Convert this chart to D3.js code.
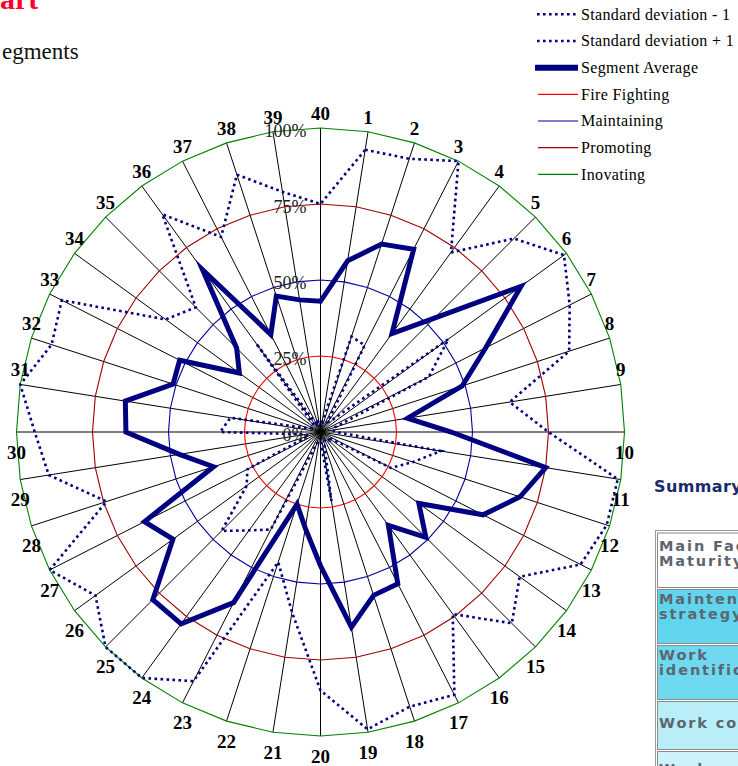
<!DOCTYPE html>
<html>
<head>
<meta charset="utf-8">
<script src="https://cdn.jsdelivr.net/npm/d3@7/dist/d3.min.js"></script>
<style>
  html, body { margin: 0; padding: 0; background: #fff; overflow: hidden; }
  svg { display: block; }
</style>
</head>
<body>
<script>
// ---------------- DATA ----------------
const categories = d3.range(1, 41).map(String); // spokes 1..40

const segmentAverage = [0.57,0.65,0.675,0.40,0.53,0.815,0.61,0.49,0.29,0.43,
                        0.75,0.69,0.60,0.40,0.49,0.38,0.56,0.565,0.65,0.44,
                        0.32,0.25,0.63,0.78,0.78,0.60,0.65,0.37,0.47,0.64,
                        0.65,0.51,0.52,0.33,0.39,0.66,0.36,0.47,0.44,0.43];

const sdPlus1 = [0.94,0.945,1.0,0.73,0.90,0.99,0.92,0.86,0.63,0.75,
                 0.99,0.99,0.96,0.81,0.89,0.74,0.97,0.95,0.99,0.85,
                 0.60,0.45,0.92,1.0,1.0,0.915,1.0,0.74,0.905,0.94,
                 1.0,0.93,0.955,0.63,0.58,0.885,0.72,0.89,0.80,0.75];

const sdMinus1 = [0.03,0.33,0.32,0.04,0.06,0.52,0.40,0.05,0.04,0.05,
                  0.40,0.32,0.26,0.03,0.04,0.03,0.03,0.04,0.23,0.03,
                  0.03,0.04,0.36,0.40,0.46,0.30,0.27,0.04,0.05,0.33,
                  0.30,0.04,0.03,0.03,0.03,0.36,0.03,0.04,0.03,0.03];

const levelNames  = ["Fire Fighting", "Maintaining", "Promoting", "Inovating"];
const levelValues = [0.25, 0.50, 0.75, 1.00];
const levelColors = ["#ff0000", "#0000a0", "#a00000", "#008000"];

const tickValues = [0, 0.25, 0.5, 0.75, 1];
const tickLabels = ["0%", "25%", "50%", "75%", "100%"];

const legendNames = ["Standard deviation - 1", "Standard deviation + 1", "Segment Average",
                     "Fire Fighting", "Maintaining", "Promoting", "Inovating"];

const tableRows = [["Main Factors", "Maturity"], ["Maintenance", "strategy"],
                   ["Work", "identification"], ["Work control"], ["Work"]];
const tableColors = ["#ffffff", "#62d5ee", "#6fd9f0", "#b9edf8", "#cdf2fa"];

// ---------------- LAYOUT ----------------
const W = 738, H = 766;
const cx = 320.5, cy = 432, R = 304;
const navy = "#000080";

const svg = d3.select("body").append("svg").attr("width", W).attr("height", H);

const rScale = d3.scaleLinear().domain([0, 1]).range([0, R]);
const aScale = d3.scaleLinear().domain([0, categories.length]).range([0, 2 * Math.PI]);
const angleOf = i => aScale(i + 1); // category i+1

const g = svg.append("g").attr("transform", `translate(${cx},${cy})`);

// spokes
g.selectAll("line.spoke").data(categories).join("line")
  .attr("class", "spoke")
  .attr("x1", 0).attr("y1", 0)
  .attr("x2", (d, i) => rScale(1) * Math.sin(angleOf(i)))
  .attr("y2", (d, i) => -rScale(1) * Math.cos(angleOf(i)))
  .attr("stroke", "#000").attr("stroke-width", 1);

const radial = d3.lineRadial()
  .angle((d, i) => angleOf(i))
  .radius(d => rScale(d))
  .curve(d3.curveLinearClosed);

// maturity level rings (constant series)
levelValues.forEach((v, k) => {
  g.append("path")
    .attr("d", radial(categories.map(() => v)))
    .attr("fill", "none").attr("stroke", levelColors[k]).attr("stroke-width", 1.1);
});

// SD lines
[sdMinus1, sdPlus1].forEach(s => {
  g.append("path").attr("d", radial(s))
    .attr("fill", "none").attr("stroke", navy).attr("stroke-width", 2.6)
    .attr("stroke-dasharray", "2.6,3.4");
});

// segment average
g.append("path").attr("d", radial(segmentAverage))
  .attr("fill", "none").attr("stroke", navy).attr("stroke-width", 5)
  .attr("stroke-linejoin", "miter").attr("stroke-miterlimit", 6);

// percent tick labels
g.selectAll("text.tick").data(tickValues).join("text")
  .attr("class", "tick")
  .attr("x", -14).attr("y", d => -rScale(d) + 3)
  .attr("text-anchor", "end").attr("dominant-baseline", "central")
  .attr("font-family", "'Liberation Serif', 'Times New Roman', serif")
  .attr("font-size", 18).attr("fill", "#222")
  .text((d, i) => tickLabels[i]);

// category labels
g.selectAll("text.cat").data(categories).join("text")
  .attr("class", "cat")
  .attr("x", (d, i) => rScale(1) * Math.sin(angleOf(i)))
  .attr("y", (d, i) => {
    const c = Math.cos(angleOf(i));
    const y = -rScale(1) * c;
    return c > 0.01 ? y - 14.5 : y + 20;
  })
  .attr("text-anchor", "middle").attr("dominant-baseline", "central")
  .attr("font-family", "'Liberation Serif', 'Times New Roman', serif")
  .attr("font-weight", "bold").attr("font-size", 19).attr("fill", "#000")
  .text(d => d);

// ---------------- TITLE TEXTS ----------------
svg.append("text").attr("x", 0).attr("y", 9)
  .attr("font-family", "'Liberation Serif', serif").attr("font-weight", "bold")
  .attr("font-size", 30).attr("fill", "#ff0030").text("art");
svg.append("text").attr("x", 2).attr("y", 59)
  .attr("font-family", "'Liberation Serif', serif")
  .attr("font-size", 23).attr("fill", "#111").text("egments");

// ---------------- LEGEND ----------------
const lg = svg.append("g");
const legY = i => 14.3 + i * 26.67;
legendNames.forEach((name, i) => {
  const y = legY(i);
  const ln = lg.append("line").attr("y1", y).attr("y2", y);
  if (i < 2) {
    ln.attr("x1", 537).attr("x2", 577).attr("stroke", navy)
      .attr("stroke-width", 2.6).attr("stroke-dasharray", "2.6,3.4");
  } else if (i === 2) {
    ln.attr("x1", 535).attr("x2", 578).attr("stroke", navy).attr("stroke-width", 6);
  } else {
    ln.attr("x1", 538).attr("x2", 578).attr("stroke", levelColors[i - 3]).attr("stroke-width", 1.2);
  }
  lg.append("text").attr("x", 581).attr("y", y)
    .attr("dominant-baseline", "central")
    .attr("font-family", "'Liberation Serif', serif").attr("font-size", 16)
    .attr("letter-spacing", 0.35)
    .attr("fill", "#000").text(name);
});

// ---------------- SUMMARY TABLE ----------------
svg.append("text").attr("x", 654).attr("y", 492)
  .attr("font-family", "'DejaVu Sans', Verdana, sans-serif").attr("font-weight", "bold")
  .attr("font-size", 16).attr("letter-spacing", 0.4)
  .attr("fill", "#1b2a6e").text("Summary");

const rowTops = [533, 589.5, 645.5, 701.5, 751.5];
const rowBottoms = [587.5, 643.5, 699.5, 749.5, 830];
svg.append("rect").attr("x", 655.5).attr("y", 530.5).attr("width", 120).attr("height", 320)
  .attr("fill", "#fff").attr("stroke", "#9a9a9a").attr("stroke-width", 1);
tableRows.forEach((lines, i) => {
  svg.append("rect").attr("x", 657.5).attr("y", rowTops[i])
    .attr("width", 120).attr("height", rowBottoms[i] - rowTops[i])
    .attr("fill", tableColors[i]).attr("stroke", "#8a8a8a").attr("stroke-width", 1);
  const mid = (rowTops[i] + rowBottoms[i]) / 2;
  let baselines;
  if (i === 4) baselines = [rowTops[i] + 22.5];
  else if (lines.length === 2) {
    const b0 = rowTops[i] + 14.5 + (i === 0 ? 3.5 : 0);
    baselines = [b0, b0 + 15];
  }
  else baselines = [mid + 2];
  lines.forEach((t, j) => {
    svg.append("text").attr("x", 659).attr("y", baselines[j])
      .attr("font-family", "'DejaVu Sans', Verdana, sans-serif").attr("font-weight", "bold")
      .attr("font-size", 14.5).attr("letter-spacing", 1.9)
      .attr("fill", "#5b6670").text(t);
  });
});
</script>
</body>
</html>
